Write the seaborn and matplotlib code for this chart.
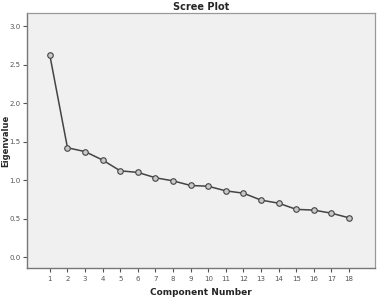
import matplotlib
matplotlib.use('Agg')
import matplotlib.pyplot as plt
import seaborn as sns
import pandas as pd

sns.set_style("white", {"xtick.bottom": True, "ytick.left": True})

components = list(range(1, 19))
eigenvalues = [2.62, 1.42, 1.37, 1.26, 1.12, 1.10, 1.03, 0.99, 0.93, 0.92,
               0.86, 0.83, 0.74, 0.70, 0.62, 0.61, 0.57, 0.51]
y_ticks = [0.0, 0.5, 1.0, 1.5, 2.0, 2.5, 3.0]

scree = pd.DataFrame({"component": components, "eigenvalue": eigenvalues})

fig = plt.figure(figsize=(3.8, 3.02), dpi=100)
ax = fig.add_axes([0.071, 0.113, 0.916, 0.844])
ax.set_facecolor("#f0f0f0")

sns.lineplot(data=scree, x="component", y="eigenvalue", ax=ax,
             color="#444444", linewidth=1.1, marker="o", markersize=4,
             markerfacecolor="#c8c8c8", markeredgecolor="#444444",
             markeredgewidth=0.8)

ax.set_xlim(-0.3, 19.48)
ax.set_ylim(-0.14, 3.17)
ax.set_xticks(components)
ax.set_yticks(y_ticks)
ax.set_yticklabels([f"{v:.1f}" for v in y_ticks])

ax.tick_params(axis="both", labelsize=5, colors="#555555", length=3,
               width=0.8, direction="out", pad=1.5)
ax.tick_params(axis="x", pad=3)
for side in ["left", "bottom"]:
    ax.spines[side].set_color("#777777")
    ax.spines[side].set_linewidth(1.0)
for side in ["top", "right"]:
    ax.spines[side].set_color("#999999")
    ax.spines[side].set_linewidth(0.9)

ax.set_title("Scree Plot", fontsize=7, fontweight="bold", pad=2)
ax.set_xlabel("Component Number", fontsize=6.5, fontweight="bold", labelpad=4)
ax.set_ylabel("Eigenvalue", fontsize=6, fontweight="bold")
ax.yaxis.set_label_coords(-0.047, 0.5)

plt.savefig("out.png", dpi=100)
